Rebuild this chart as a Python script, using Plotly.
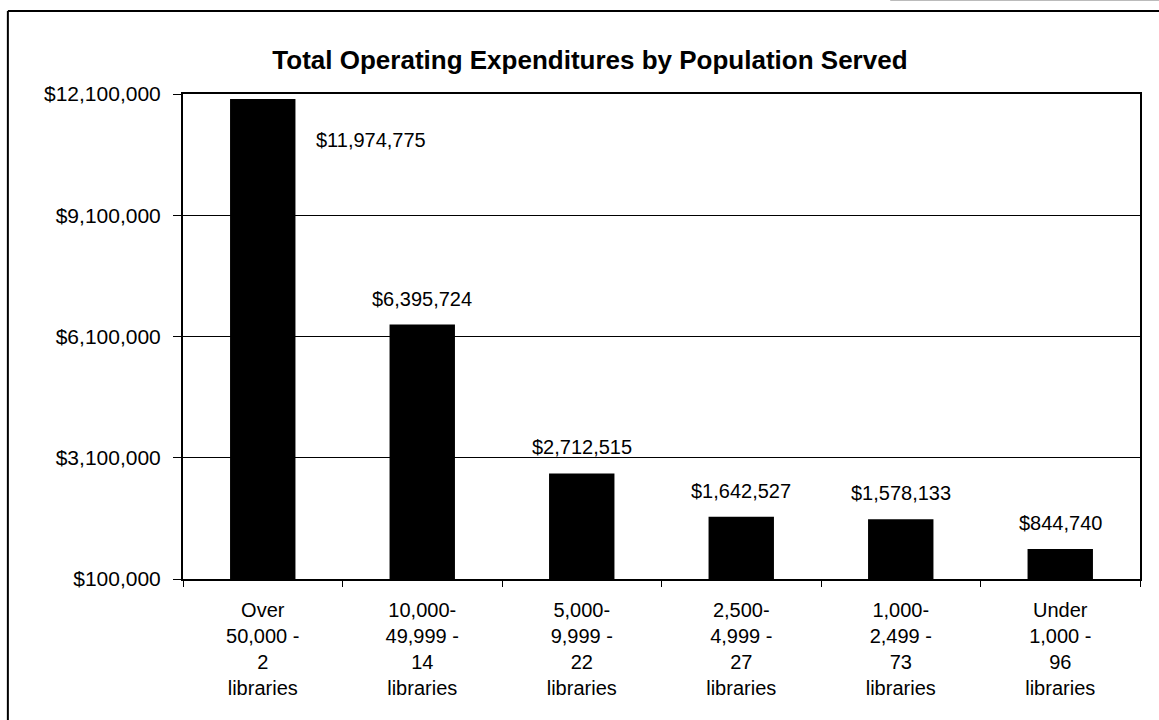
import plotly.graph_objects as go

categories = [
    "Over<br>50,000 -<br>2<br>libraries",
    "10,000-<br>49,999 -<br>14<br>libraries",
    "5,000-<br>9,999 -<br>22<br>libraries",
    "2,500-<br>4,999 -<br>27<br>libraries",
    "1,000-<br>2,499 -<br>73<br>libraries",
    "Under<br>1,000 -<br>96<br>libraries",
]
values = [11974775, 6395724, 2712515, 1642527, 1578133, 844740]
y_ticks = [100000, 3100000, 6100000, 9100000, 12100000]
y_tick_labels = ["$100,000", "$3,100,000", "$6,100,000", "$9,100,000", "$12,100,000"]
title_text = "Total Operating Expenditures by Population Served"

FONT = "Liberation Sans, Arial, sans-serif"

fig = go.Figure()
fig.add_trace(go.Bar(
    x=categories, y=values, base=0,
    marker=dict(color="black", line=dict(width=0)),
    width=0.41, hoverinfo="skip",
))

annotations = []
for i, (c, v) in enumerate(zip(categories, values)):
    label = "${:,}".format(v)
    if i == 0:
        annotations.append(dict(x=c, y=v, xref="x", yref="y", text=label, showarrow=False,
                                xanchor="left", yanchor="middle", xshift=51, yshift=-41,
                                font=dict(size=20, color="black", family=FONT)))
    else:
        annotations.append(dict(x=c, y=v, xref="x", yref="y", text=label, showarrow=False,
                                xanchor="center", yanchor="bottom", yshift=13,
                                font=dict(size=20, color="black", family=FONT)))

fig.update_layout(
    width=1159, height=720,
    margin=dict(l=183, r=19, t=94, b=141),
    paper_bgcolor="white", plot_bgcolor="white",
    showlegend=False,
    font=dict(family=FONT, size=20, color="black"),
    title=dict(text="<b>" + title_text + "</b>", x=0.509, xanchor="center",
               y=1 - 60 / 720, yanchor="middle",
               font=dict(size=26, family=FONT, color="black")),
    bargap=0.59,
    annotations=annotations,
    shapes=[
        dict(type="line", xref="paper", yref="paper", x0=-0.183, x1=1.05, y0=1.171, y1=1.171,
             line=dict(color="black", width=2)),
        dict(type="line", xref="paper", yref="paper", x0=-0.183, x1=-0.183, y0=1.171, y1=-0.32,
             line=dict(color="black", width=2)),
        dict(type="line", xref="paper", yref="paper", x0=0.739, x1=1.05, y0=1.1928, y1=1.1928,
             line=dict(color="#bbbbbb", width=1)),
    ],
)
fig.update_xaxes(
    type="category", showline=True, linecolor="black", linewidth=2, mirror=True,
    ticks="outside", tickson="boundaries", ticklen=6, tickcolor="black", tickwidth=1,
    ticklabelstandoff=12,
    showgrid=False, tickfont=dict(size=20, family=FONT, color="black"),
)
fig.update_yaxes(
    range=[100000, 12100000], tickvals=y_ticks, ticktext=y_tick_labels,
    showline=True, linecolor="black", linewidth=2, mirror=True,
    ticks="outside", ticklen=8, tickcolor="black", tickwidth=1,
    ticklabelstandoff=8,
    showgrid=True, gridcolor="black", gridwidth=1, zeroline=False,
    tickfont=dict(size=21, family=FONT, color="black"),
)
fig.write_html("out.html", config={"displayModeBar": False},
               post_script="document.body.style.margin='0';document.body.style.overflow='hidden';")
